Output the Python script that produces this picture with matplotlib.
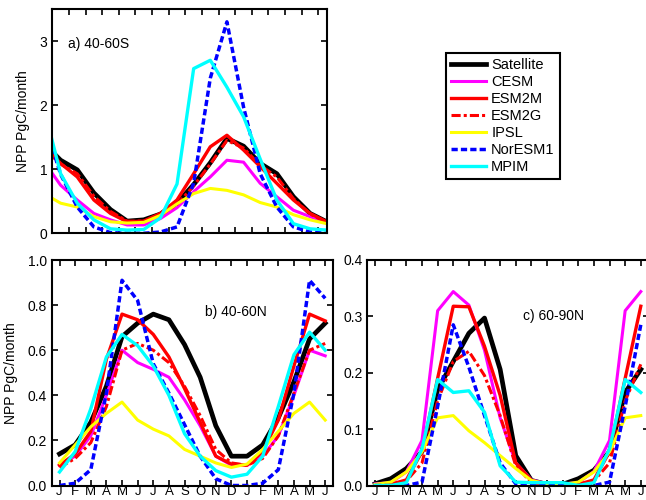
import numpy as np
import matplotlib
matplotlib.use("Agg")
import matplotlib.pyplot as plt

plt.rcParams['font.family'] = ['Liberation Sans', 'DejaVu Sans']

months = ['J', 'F', 'M', 'A', 'M', 'J', 'J', 'A', 'S', 'O', 'N', 'D',
          'J', 'F', 'M', 'A', 'M', 'J']
series_names = ['Satellite', 'CESM', 'ESM2M', 'ESM2G', 'IPSL', 'NorESM1', 'MPIM']

# Panel a) 40-60S
sat_a = [1.40, 1.14, 0.99, 0.63, 0.37, 0.19, 0.21, 0.30, 0.47, 0.76, 1.10, 1.48, 1.36, 1.09, 0.93, 0.57, 0.31, 0.18]
cesm_a = [1.12, 0.75, 0.52, 0.31, 0.21, 0.13, 0.13, 0.23, 0.40, 0.65, 0.88, 1.14, 1.11, 0.78, 0.57, 0.36, 0.26, 0.17]
esm2m_a = [1.36, 1.09, 0.88, 0.52, 0.31, 0.18, 0.19, 0.31, 0.52, 0.93, 1.35, 1.53, 1.30, 1.04, 0.78, 0.52, 0.31, 0.18]
esm2g_a = [1.32, 1.08, 0.93, 0.58, 0.34, 0.19, 0.19, 0.28, 0.45, 0.74, 1.08, 1.45, 1.33, 1.06, 0.88, 0.54, 0.30, 0.17]
ipsl_a = [0.62, 0.47, 0.41, 0.26, 0.18, 0.16, 0.17, 0.28, 0.46, 0.62, 0.70, 0.67, 0.60, 0.48, 0.41, 0.29, 0.21, 0.15]
noresm_a = [1.75, 0.92, 0.41, 0.10, 0.01, 0.0, 0.0, 0.02, 0.10, 0.78, 2.42, 3.30, 1.97, 0.93, 0.41, 0.10, 0.02, 0.0]
mpim_a = [1.95, 0.93, 0.47, 0.21, 0.07, 0.05, 0.06, 0.24, 0.77, 2.57, 2.70, 2.28, 1.82, 1.16, 0.52, 0.15, 0.07, 0.05]

# Panel b) 40-60N
sat_b = [0.14, 0.18, 0.28, 0.44, 0.66, 0.72, 0.76, 0.735, 0.625, 0.48, 0.265, 0.13, 0.13, 0.18, 0.30, 0.46, 0.65, 0.72]
cesm_b = [0.09, 0.13, 0.22, 0.40, 0.60, 0.545, 0.515, 0.48, 0.38, 0.265, 0.13, 0.09, 0.09, 0.13, 0.22, 0.40, 0.60, 0.575]
esm2m_b = [0.09, 0.14, 0.24, 0.56, 0.76, 0.735, 0.67, 0.57, 0.43, 0.28, 0.13, 0.095, 0.09, 0.15, 0.29, 0.53, 0.76, 0.73]
esm2g_b = [0.08, 0.12, 0.19, 0.35, 0.60, 0.63, 0.60, 0.545, 0.44, 0.31, 0.16, 0.10, 0.09, 0.12, 0.22, 0.41, 0.60, 0.63]
ipsl_b = [0.10, 0.18, 0.26, 0.32, 0.37, 0.29, 0.25, 0.22, 0.16, 0.13, 0.10, 0.08, 0.095, 0.16, 0.24, 0.32, 0.37, 0.29]
noresm_b = [0.0, 0.01, 0.07, 0.41, 0.91, 0.82, 0.54, 0.41, 0.27, 0.13, 0.03, 0.0, 0.0, 0.01, 0.07, 0.41, 0.91, 0.83]
mpim_b = [0.06, 0.15, 0.34, 0.57, 0.67, 0.62, 0.53, 0.40, 0.23, 0.13, 0.066, 0.037, 0.05, 0.13, 0.35, 0.58, 0.68, 0.60]

# Panel c) 60-90N
sat_c = [0.003, 0.012, 0.03, 0.06, 0.17, 0.22, 0.27, 0.297, 0.206, 0.053, 0.009, 0.002, 0.002, 0.012, 0.027, 0.06, 0.165, 0.206]
cesm_c = [0.003, 0.005, 0.024, 0.08, 0.31, 0.344, 0.32, 0.24, 0.12, 0.04, 0.01, 0.003, 0.003, 0.005, 0.025, 0.08, 0.31, 0.344]
esm2m_c = [0.0, 0.002, 0.01, 0.06, 0.19, 0.318, 0.317, 0.247, 0.16, 0.04, 0.009, 0.002, 0.0, 0.002, 0.01, 0.06, 0.19, 0.318]
esm2g_c = [0.0, 0.002, 0.008, 0.04, 0.15, 0.22, 0.238, 0.195, 0.124, 0.035, 0.005, 0.0, 0.0, 0.002, 0.008, 0.04, 0.15, 0.215]
ipsl_c = [0.002, 0.006, 0.024, 0.06, 0.12, 0.124, 0.097, 0.076, 0.053, 0.03, 0.009, 0.003, 0.002, 0.006, 0.024, 0.06, 0.12, 0.124]
noresm_c = [0.0, 0.0, 0.0, 0.006, 0.14, 0.285, 0.21, 0.124, 0.04, 0.003, 0.0, 0.0, 0.0, 0.0, 0.0, 0.006, 0.14, 0.285]
mpim_c = [0.0, 0.0, 0.005, 0.065, 0.188, 0.165, 0.168, 0.13, 0.035, 0.006, 0.005, 0.005, 0.005, 0.0, 0.005, 0.065, 0.188, 0.165]

styles = {
    'Satellite': dict(color='black', lw=3.4, ls='-'),
    'CESM': dict(color='#ff00ff', lw=2.2, ls='-'),
    'ESM2M': dict(color='#ff0000', lw=2.4, ls='-'),
    'ESM2G': dict(color='#ff0000', lw=2.2, ls=(0, (3, 1, 1, 1))),
    'IPSL': dict(color='#ffff00', lw=2.2, ls='-'),
    'NorESM1': dict(color='#0000ff', lw=2.5, ls=(0, (1.8, 0.9))),
    'MPIM': dict(color='#00ffff', lw=2.4, ls='-'),
}

data_a = [sat_a, cesm_a, esm2m_a, esm2g_a, ipsl_a, noresm_a, mpim_a]
data_b = [sat_b, cesm_b, esm2m_b, esm2g_b, ipsl_b, noresm_b, mpim_b]
data_c = [sat_c, cesm_c, esm2m_c, esm2g_c, ipsl_c, noresm_c, mpim_c]

W, H = 646, 500
fig = plt.figure(figsize=(W / 100, H / 100), dpi=100)


def px_axes(l, t, r, b):
    return fig.add_axes([l / W, 1 - b / H, (r - l) / W, (b - t) / H])


ax_a = px_axes(52.3, 9, 326.7, 233.3)
ax_b = px_axes(51.7, 260, 333.0, 485.5)
ax_c = px_axes(367.3, 260, 648.6, 485.5)

xa = np.arange(len(months)) - 0.5
xb = np.arange(1, len(months) + 1)

handles = []
for name, ya in zip(series_names, data_a):
    h, = ax_a.plot(xa, ya, label=name, **styles[name])
    handles.append(h)
for name, yb in zip(series_names, data_b):
    ax_b.plot(xb, yb, **styles[name])
for name, yc in zip(series_names, data_c):
    ax_c.plot(xb, yc, **styles[name])

for ax in (ax_a, ax_b, ax_c):
    ax.tick_params(direction='in', top=True, right=True, length=4, width=1.2,
                   labelsize=10)
    ax.tick_params(axis='x', pad=0.5, labelsize=9.5)
    for s in ax.spines.values():
        s.set_linewidth(1.5)

ax_a.set_xlim(0, 16.5)
ax_a.set_xticks(np.arange(1, 17))
ax_a.set_xticklabels([])
ax_a.set_ylim(0, 3.5)
ax_a.set_yticks([0, 1, 2, 3])
ax_a.set_ylabel('NPP PgC/month', fontsize=10, labelpad=7)
ax_a.text(0.94, 2.96, 'a) 40-60S', fontsize=10, va='center', ha='left')

for ax in (ax_b, ax_c):
    ax.set_xlim(0.5, 18.5)
    ax.set_xticks(xb)
    ax.set_xticklabels(months)

ax_b.set_ylim(0, 1.0)
ax_b.set_yticks(np.arange(0, 1.01, 0.2))
ax_b.set_yticklabels(['%.1f' % v for v in np.arange(0, 1.01, 0.2)])
ax_b.set_ylabel('NPP PgC/month', fontsize=10, labelpad=7)
ax_b.text(10.3, 0.77, 'b) 40-60N', fontsize=10, va='center', ha='left')

ax_c.set_ylim(0, 0.4)
ax_c.set_yticks(np.arange(0, 0.41, 0.1))
ax_c.set_yticklabels(['%.1f' % v for v in np.arange(0, 0.41, 0.1)])
ax_c.text(10.46, 0.30, 'c) 60-90N', fontsize=10, va='center', ha='left')

leg = fig.legend(handles=handles, loc='upper left',
                 bbox_to_anchor=(446 / W, 1 - 53 / H), borderaxespad=0,
                 fontsize=10.5, handlelength=2.4, handletextpad=0.35,
                 borderpad=0.35, labelspacing=0.2, fancybox=False,
                 edgecolor='black', framealpha=1)
leg.get_frame().set_linewidth(1.5)

fig.savefig('out.png', dpi=100)
